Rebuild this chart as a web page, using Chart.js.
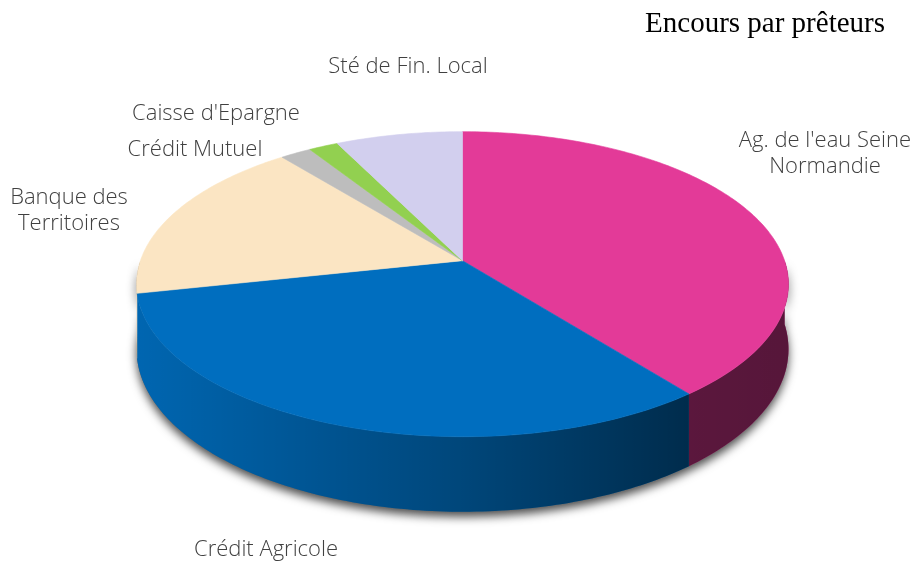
<!DOCTYPE html>
<html>
<head>
<meta charset="utf-8">
<script src="https://cdn.jsdelivr.net/npm/chart.js@4.4.1/dist/chart.umd.min.js"></script>
<style>
  html, body { margin: 0; padding: 0; background: #fff; }
  #wrap { width: 915px; height: 563px; }
</style>
</head>
<body>
<div id="wrap"><canvas id="myChart" width="915" height="563"></canvas></div>
<script>
// data (share of outstanding debt, %)
const preteurs = ["Ag. de l'eau Seine Normandie", 'Crédit Agricole', 'Banque des Territoires', 'Crédit Mutuel', "Caisse d'Epargne", 'Sté de Fin. Local'];
const encours = [39.4, 32.2, 17.6, 1.8, 1.7, 7.3];
const couleurs = ['#E33A98', '#006EBF', '#FBE5C3', '#BDBDBD', '#92D050', '#D2CFEE'];

// how the labels are broken and where they sit (centre x, first line y)
const labelLines = [["Ag. de l'eau Seine", 'Normandie'], ['Crédit Agricole'], ['Banque des', 'Territoires'], ['Crédit Mutuel'], ["Caisse d'Epargne"], ['Sté de Fin. Local']];
const labelAt = [[825, 141], [266, 550], [69, 198], [195, 150], [216, 114], [408, 67]];

// tilt of the 3d pie, relative to the radius chart.js gives us
const TILT = { rx: 1.517, ry: 0.7014, depth: 0.299, persp: 0.154 };

var ctx = document.getElementById('myChart');

const pie3d = {
    id: 'pie3d',
    beforeDatasetsDraw(chart) {
        const c = chart.ctx;
        const meta = chart.getDatasetMeta(0);
        const first = meta.data[0];
        const R = first.outerRadius;
        const cx = first.x, cy = first.y;
        const A = R * TILT.rx, B = R * TILT.ry, D = R * TILT.depth, K = TILT.persp;
        const edge = Math.asin(K);

        function pt(th, drop) {
            const u = Math.cos(th), v = Math.sin(th), w = 1 - K * v;
            return [cx + A * u / w, cy + (B * v + drop) / w];
        }
        function sidePath(a, b) {
            c.beginPath();
            const n = Math.max(4, Math.ceil((b - a) * 60));
            for (let i = 0; i <= n; i++) {
                const p = pt(a + (b - a) * i / n, 0);
                i ? c.lineTo(p[0], p[1]) : c.moveTo(p[0], p[1]);
            }
            for (let i = n; i >= 0; i--) {
                const p = pt(a + (b - a) * i / n, D);
                c.lineTo(p[0], p[1]);
            }
            c.closePath();
        }
        function topPath(a, b) {
            c.beginPath();
            c.moveTo(cx, cy);
            const n = Math.max(4, Math.ceil((b - a) * 60));
            for (let i = 0; i <= n; i++) {
                const p = pt(a + (b - a) * i / n, 0);
                c.lineTo(p[0], p[1]);
            }
            c.closePath();
        }

        c.save();
        // soft shadow under the whole cake
        c.shadowColor = 'rgba(0,0,0,0.7)';
        c.shadowBlur = 10;
        c.shadowOffsetY = 5;
        c.fillStyle = '#666';
        sidePath(0, Math.PI);
        c.fill();
        c.restore();

        const grad = c.createLinearGradient(cx - A, 0, cx + A, 0);
        grad.addColorStop(0, 'rgba(0,0,0,0.08)');
        grad.addColorStop(0.5, 'rgba(0,0,0,0.36)');
        grad.addColorStop(0.85, 'rgba(0,0,0,0.6)');
        grad.addColorStop(1, 'rgba(0,0,0,0.62)');

        // outer walls, only the front half can be seen
        meta.data.forEach(function (arc, i) {
            const a = Math.max(arc.startAngle, 0);
            let b = Math.min(arc.endAngle, Math.PI);
            if (arc.endAngle >= Math.PI) b = Math.max(a, Math.PI - edge);
            if (arc.startAngle >= Math.PI - edge) return;
            if (b <= a) return;
            sidePath(a, b);
            c.fillStyle = couleurs[i];
            c.fill();
            c.fillStyle = grad;
            c.fill();
        });

        // top faces
        meta.data.forEach(function (arc, i) {
            topPath(arc.startAngle, arc.endAngle);
            c.fillStyle = couleurs[i];
            c.strokeStyle = couleurs[i];
            c.lineWidth = 0.6;
            c.fill();
            c.stroke();
        });

        // labels
        c.fillStyle = '#404040';
        c.font = '300 22px "Open Sans", "Noto Sans", sans-serif';
        c.textAlign = 'center';
        c.textBaseline = 'middle';
        labelLines.forEach(function (lines, i) {
            lines.forEach(function (txt, j) {
                c.fillText(txt, labelAt[i][0], labelAt[i][1] + j * 26);
            });
        });
        return false;
    }
};

var myChart = new Chart(ctx, {
    type: 'pie',
    data: {
        labels: preteurs,
        datasets: [{
            data: encours,
            backgroundColor: couleurs,
            borderWidth: 0
        }]
    },
    options: {
        responsive: false,
        animation: false,
        layout: { padding: { left: 40, right: 30, top: 0, bottom: 90 } },
        plugins: {
            legend: { display: false },
            tooltip: { enabled: false },
            title: {
                display: true,
                text: 'Encours par prêteurs',
                align: 'end',
                color: '#000',
                font: { family: '"Liberation Serif", "Times New Roman", serif', size: 29, weight: 'normal' },
                padding: { top: 7, bottom: 6.6 }
            }
        }
    },
    plugins: [pie3d]
});
</script>
</body>
</html>
